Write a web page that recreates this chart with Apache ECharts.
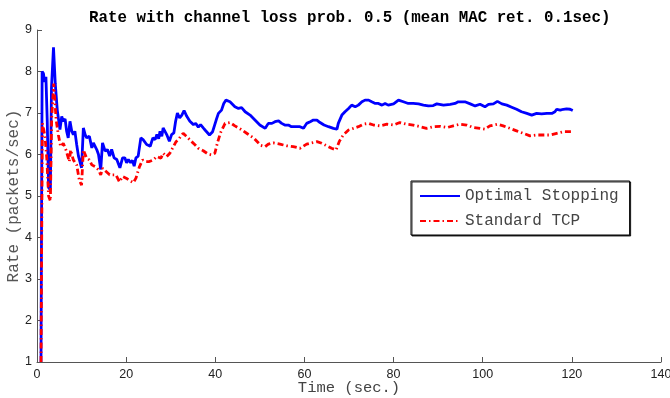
<!DOCTYPE html>
<html>
<head>
<meta charset="utf-8">
<script src="https://cdn.jsdelivr.net/npm/echarts@6/dist/echarts.min.js"></script>
<style>
html,body{margin:0;padding:0;background:#fff;}
#chart{width:670px;height:398px;}
</style>
</head>
<body>
<div id="chart"></div>
<script>
// Data
const titleText = 'Rate with channel loss prob. 0.5 (mean MAC ret. 0.1sec)';
const seriesNames = ['Optimal Stopping', 'Standard TCP'];
const xTicks = [0, 20, 40, 60, 80, 100, 120, 140];
const yTicks = [1, 2, 3, 4, 5, 6, 7, 8, 9];

const timeOpt = [0.9,1.15,1.45,1.7,2.0,2.3,2.6,3.0,3.25,3.7,4.1,4.55,5.15,5.55,5.9,6.3,6.65,7.0,7.4,7.8,8.15,8.5,8.9,9.3,9.6,10.0,10.4,10.8,11.15,11.75,12.3,12.65,13.4,13.8,14.3,14.7,15.3,15.8,16.3,16.75,17.3,17.9,18.6,19.2,19.7,20.1,20.5,21.0,21.4,21.8,22.2,22.7,23.3,23.8,24.6,25.4,26.0,26.5,26.9,27.3,27.6,28.0,28.3,29.1,29.7,30.2,30.7,31.1,31.5,32.0,32.5,33.0,33.6,34.3,35.1,35.6,36.2,36.7,37.3,37.7,38.1,38.7,39.4,40.2,40.7,41.4,41.9,42.4,43.3,44.4,45.2,45.9,46.7,47.8,48.9,50.0,51.2,51.9,52.7,53.4,54.2,54.9,55.6,56.4,57.1,57.9,59.0,59.8,60.5,61.3,62.0,62.8,63.5,64.4,65.4,66.5,67.3,67.6,68.4,69.1,69.9,70.6,71.4,72.1,72.9,73.6,74.4,75.1,75.9,76.6,77.4,78.1,78.8,80.0,81.1,82.2,83.3,84.4,85.6,86.7,87.8,88.9,89.7,91.2,92.7,93.8,94.5,96.0,97.2,98.3,99.4,100.5,101.3,102.4,103.3,104.3,105.4,106.5,107.6,108.7,109.9,111.0,112.1,113.2,114.4,115.5,116.2,116.6,117.4,118.1,118.8,119.6,120.2];
const rateOpt = [1.0,8.0,7.95,7.75,7.87,6.8,5.2,5.15,7.6,8.58,7.7,7.07,6.6,6.92,6.8,6.86,6.56,6.4,6.8,6.56,6.48,6.56,6.24,5.96,5.98,5.68,6.64,6.48,6.4,6.44,6.16,6.28,6.12,6.0,5.64,6.28,6.08,6.12,5.96,6.12,5.92,5.88,5.68,5.92,5.92,5.8,5.88,5.8,5.86,5.72,5.92,5.96,6.4,6.36,6.24,6.2,6.4,6.36,6.48,6.38,6.56,6.44,6.64,6.48,6.32,6.48,6.52,6.8,7.0,6.88,6.95,7.06,6.92,6.8,6.72,6.75,6.66,6.72,6.64,6.59,6.55,6.47,6.55,6.83,6.99,7.07,7.23,7.31,7.27,7.15,7.11,7.13,7.03,6.95,6.83,6.71,6.63,6.75,6.75,6.79,6.81,6.75,6.71,6.71,6.67,6.67,6.67,6.63,6.75,6.79,6.83,6.83,6.77,6.71,6.67,6.63,6.61,6.75,6.95,7.03,7.11,7.19,7.15,7.19,7.27,7.31,7.31,7.27,7.23,7.23,7.19,7.23,7.19,7.22,7.31,7.27,7.23,7.23,7.22,7.19,7.17,7.18,7.22,7.19,7.21,7.23,7.27,7.27,7.22,7.17,7.21,7.15,7.21,7.22,7.28,7.22,7.19,7.14,7.09,7.03,6.99,6.95,6.99,6.98,6.99,6.99,7.03,7.09,7.07,7.09,7.10,7.09,7.06];

const timeTcp = [0.9,1.2,1.5,1.8,2.2,2.6,3.0,3.3,3.75,4.3,4.8,5.3,5.9,6.5,7.25,7.55,8.15,8.9,9.5,10.0,10.4,11.15,11.75,12.3,13.0,13.8,14.3,14.7,15.5,16.3,17.0,17.7,18.5,19.2,20.0,20.7,21.6,22.2,23.0,23.7,24.5,25.2,26.1,26.9,27.8,28.3,29.1,29.8,30.6,31.2,31.7,32.2,32.8,33.6,34.7,35.5,36.2,37.3,38.4,39.2,39.9,40.5,41.2,42.2,43.3,44.4,45.7,47.2,48.7,50.2,51.2,51.9,53.0,54.5,56.0,57.5,59.0,60.5,61.6,62.8,63.9,65.0,66.1,67.1,67.8,68.7,69.9,71.0,72.1,73.2,74.4,75.5,77.0,78.5,80.0,81.4,82.9,84.4,86.0,87.4,88.9,90.4,92.0,93.4,94.9,96.4,97.9,99.4,100.5,101.6,103.3,104.6,106.1,107.6,109.1,110.6,112.1,113.6,115.1,116.6,118.1,119.6,120.2];
const rateTcp = [1.0,6.75,6.6,6.43,5.9,5.0,4.88,6.9,7.71,6.83,6.47,6.19,6.27,6.11,5.83,6.11,5.87,5.75,5.38,5.26,6.11,5.91,5.87,5.75,5.71,5.63,5.51,5.67,5.59,5.51,5.51,5.51,5.34,5.47,5.43,5.38,5.32,5.43,5.71,5.87,5.83,5.83,5.87,5.95,5.91,6.03,5.95,6.03,6.19,6.31,6.35,6.43,6.51,6.43,6.31,6.23,6.15,6.09,6.01,5.99,6.03,6.29,6.53,6.75,6.77,6.69,6.61,6.5,6.39,6.22,6.19,6.25,6.28,6.25,6.21,6.19,6.15,6.25,6.28,6.31,6.27,6.21,6.15,6.11,6.31,6.47,6.59,6.63,6.67,6.73,6.75,6.71,6.69,6.73,6.71,6.77,6.73,6.71,6.67,6.63,6.67,6.68,6.65,6.69,6.73,6.71,6.65,6.63,6.61,6.69,6.73,6.69,6.63,6.57,6.51,6.45,6.47,6.47,6.47,6.51,6.55,6.55,6.55];

const zip = (a, b) => a.map((t, i) => [t, b[i]]);

const chart = echarts.init(document.getElementById('chart'), null, {renderer: 'canvas'});
const axisGray = '#555';
chart.setOption({
  animation: false,
  backgroundColor: '#fff',
  title: {
    text: titleText,
    left: 84,
    top: 5,
    textStyle: {fontFamily: 'Liberation Mono', fontWeight: 'bold', fontSize: 15.8, color: '#000'}
  },
  grid: {left: 37, right: 9, top: 30, bottom: 36, containLabel: false, outerBoundsMode: 'none'},
  legend: {
    orient: 'vertical',
    left: 411,
    top: 181,
    padding: [7, 11, 6, 8],
    itemWidth: 40,
    itemHeight: 14,
    itemGap: 9,
    backgroundColor: '#fff',
    borderColor: '#000',
    borderWidth: 1,
    borderRadius: 0,
    shadowColor: 'rgba(0,0,0,0.8)',
    shadowOffsetX: 1,
    shadowOffsetY: 1,
    shadowBlur: 0,
    itemStyle: {opacity: 0},
    textStyle: {fontFamily: 'Liberation Mono', fontSize: 16, color: '#444'},
    data: seriesNames
  },
  xAxis: {
    type: 'value',
    min: xTicks[0], max: xTicks[xTicks.length - 1], interval: 20,
    name: 'Time (sec.)',
    nameLocation: 'middle',
    nameGap: 18,
    nameMoveOverlap: false,
    nameTextStyle: {fontFamily: 'Liberation Mono', fontSize: 15.5, color: '#444'},
    axisLine: {show: true, onZero: false, lineStyle: {color: axisGray, width: 1}},
    axisTick: {show: true, inside: true, length: 5, lineStyle: {color: axisGray}},
    axisLabel: {margin: 6, fontFamily: 'Liberation Sans', fontSize: 12.5, color: '#222'},
    splitLine: {show: false}
  },
  yAxis: {
    type: 'value',
    min: yTicks[0], max: yTicks[yTicks.length - 1], interval: 1,
    name: 'Rate (packets/sec)',
    nameLocation: 'middle',
    nameGap: 15,
    nameMoveOverlap: false,
    nameTextStyle: {fontFamily: 'Liberation Mono', fontSize: 16, color: '#555'},
    axisLine: {show: true, onZero: false, lineStyle: {color: axisGray, width: 1}},
    axisTick: {show: true, inside: true, length: 5, lineStyle: {color: axisGray}},
    axisLabel: {margin: 5, fontFamily: 'Liberation Sans', fontSize: 12.5, color: '#222'},
    splitLine: {show: false}
  },
  series: [
    {
      name: seriesNames[0],
      type: 'line',
      data: zip(timeOpt, rateOpt),
      showSymbol: false,
      symbol: 'none',
      lineStyle: {color: '#0000ff', width: 2.8},
      itemStyle: {color: '#0000ff'},
      z: 3
    },
    {
      name: seriesNames[1],
      type: 'line',
      data: zip(timeTcp, rateTcp),
      showSymbol: false,
      symbol: 'none',
      lineStyle: {color: '#ff0000', width: 2.8, type: [6, 3, 1.5, 3]},
      itemStyle: {color: '#ff0000'},
      z: 4
    }
  ]
});
</script>
</body>
</html>
